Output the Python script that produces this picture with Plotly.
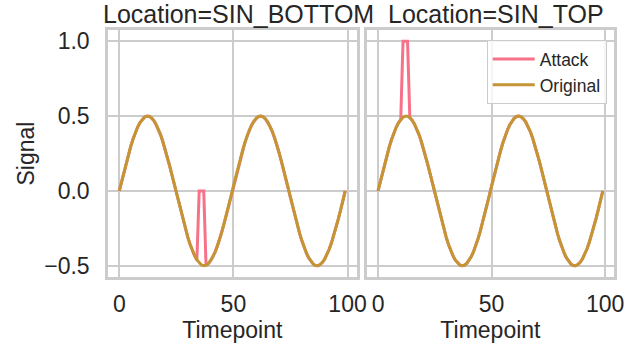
import plotly.graph_objects as go

timepoints = list(range(100))

original = [
    0.0, 0.0633, 0.1256, 0.1858, 0.2431, 0.2965, 0.3450, 0.3881, 0.4249, 0.4548,
    0.4775, 0.4924, 0.4994, 0.4984, 0.4894, 0.4725, 0.4480, 0.4163, 0.3779, 0.3334,
    0.2835, 0.2291, 0.1710, 0.1102, 0.0475, -0.0159, -0.0790, -0.1409, -0.2005, -0.2568,
    -0.3091, -0.3563, -0.3979, -0.4330, -0.4612, -0.4819, -0.4949, -0.4999, -0.4969, -0.4859,
    -0.4671, -0.4407, -0.4073, -0.3673, -0.3214, -0.2703, -0.2149, -0.1560, -0.0946, -0.0317,
    0.0317, 0.0946, 0.1560, 0.2149, 0.2703, 0.3214, 0.3673, 0.4073, 0.4407, 0.4671,
    0.4859, 0.4969, 0.4999, 0.4949, 0.4819, 0.4612, 0.4330, 0.3979, 0.3563, 0.3091,
    0.2568, 0.2005, 0.1409, 0.0790, 0.0159, -0.0475, -0.1102, -0.1710, -0.2291, -0.2835,
    -0.3334, -0.3779, -0.4163, -0.4480, -0.4725, -0.4894, -0.4984, -0.4994, -0.4924, -0.4775,
    -0.4548, -0.4249, -0.3881, -0.3450, -0.2965, -0.2431, -0.1858, -0.1256, -0.0633, 0.0,
]

attack_bottom = [
    0.0, 0.0633, 0.1256, 0.1858, 0.2431, 0.2965, 0.3450, 0.3881, 0.4249, 0.4548,
    0.4775, 0.4924, 0.4994, 0.4984, 0.4894, 0.4725, 0.4480, 0.4163, 0.3779, 0.3334,
    0.2835, 0.2291, 0.1710, 0.1102, 0.0475, -0.0159, -0.0790, -0.1409, -0.2005, -0.2568,
    -0.3091, -0.3563, -0.3979, -0.4330, -0.4612, 0.0, 0.0, 0.0, -0.4969, -0.4859,
    -0.4671, -0.4407, -0.4073, -0.3673, -0.3214, -0.2703, -0.2149, -0.1560, -0.0946, -0.0317,
    0.0317, 0.0946, 0.1560, 0.2149, 0.2703, 0.3214, 0.3673, 0.4073, 0.4407, 0.4671,
    0.4859, 0.4969, 0.4999, 0.4949, 0.4819, 0.4612, 0.4330, 0.3979, 0.3563, 0.3091,
    0.2568, 0.2005, 0.1409, 0.0790, 0.0159, -0.0475, -0.1102, -0.1710, -0.2291, -0.2835,
    -0.3334, -0.3779, -0.4163, -0.4480, -0.4725, -0.4894, -0.4984, -0.4994, -0.4924, -0.4775,
    -0.4548, -0.4249, -0.3881, -0.3450, -0.2965, -0.2431, -0.1858, -0.1256, -0.0633, 0.0,
]

attack_top = [
    0.0, 0.0633, 0.1256, 0.1858, 0.2431, 0.2965, 0.3450, 0.3881, 0.4249, 0.4548,
    0.4775, 1.0, 1.0, 1.0, 0.4894, 0.4725, 0.4480, 0.4163, 0.3779, 0.3334,
    0.2835, 0.2291, 0.1710, 0.1102, 0.0475, -0.0159, -0.0790, -0.1409, -0.2005, -0.2568,
    -0.3091, -0.3563, -0.3979, -0.4330, -0.4612, -0.4819, -0.4949, -0.4999, -0.4969, -0.4859,
    -0.4671, -0.4407, -0.4073, -0.3673, -0.3214, -0.2703, -0.2149, -0.1560, -0.0946, -0.0317,
    0.0317, 0.0946, 0.1560, 0.2149, 0.2703, 0.3214, 0.3673, 0.4073, 0.4407, 0.4671,
    0.4859, 0.4969, 0.4999, 0.4949, 0.4819, 0.4612, 0.4330, 0.3979, 0.3563, 0.3091,
    0.2568, 0.2005, 0.1409, 0.0790, 0.0159, -0.0475, -0.1102, -0.1710, -0.2291, -0.2835,
    -0.3334, -0.3779, -0.4163, -0.4480, -0.4725, -0.4894, -0.4984, -0.4994, -0.4924, -0.4775,
    -0.4548, -0.4249, -0.3881, -0.3450, -0.2965, -0.2431, -0.1858, -0.1256, -0.0633, 0.0,
]

panel_titles = ["Location=SIN_BOTTOM", "Location=SIN_TOP"]
x_ticks = [0, 50, 100]
y_ticks = [-0.5, 0.0, 0.5, 1.0]

ATTACK_COLOR = "#f77189"
ORIG_COLOR = "#c39535"
FONT = "Liberation Sans, Arial, sans-serif"
TEXT = "#262626"
GRID = "#cccccc"

fig = go.Figure()

panels = [("x", "y", attack_bottom, True), ("x2", "y2", attack_top, False)]
for xa, ya, atk, first in panels:
    fig.add_trace(go.Scatter(x=timepoints, y=atk, mode="lines", name="Attack",
                             line=dict(color=ATTACK_COLOR, width=3),
                             xaxis=xa, yaxis=ya, showlegend=not first))
    fig.add_trace(go.Scatter(x=timepoints, y=original, mode="lines", name="Original",
                             line=dict(color=ORIG_COLOR, width=3),
                             xaxis=xa, yaxis=ya, showlegend=not first))

common_x = dict(range=[-4.95, 103.95], tickvals=x_ticks, showgrid=True, gridcolor=GRID,
                gridwidth=2, showline=True, linecolor=GRID, linewidth=2.5, mirror=True,
                zeroline=False, ticks="", ticklabelstandoff=5, automargin=False,
                tickfont=dict(family=FONT, size=23, color=TEXT),
                title=dict(text="Timepoint", font=dict(family=FONT, size=23, color=TEXT),
                           standoff=0))
common_y = dict(range=[-0.575, 1.075], tickvals=y_ticks, tickformat=".1f", showgrid=True,
                gridcolor=GRID, gridwidth=2, showline=True, linecolor=GRID, linewidth=2.5,
                mirror=True, zeroline=False, ticks="", domain=[0.2131, 0.9148],
                automargin=False, tickfont=dict(family=FONT, size=23, color=TEXT))

fig.update_layout(
    width=639, height=352,
    margin=dict(l=0, r=0, t=0, b=0),
    paper_bgcolor="white", plot_bgcolor="white",
    xaxis=dict(domain=[0.169, 0.558], **common_x),
    xaxis2=dict(domain=[0.574, 0.961], **common_x),
    yaxis=dict(anchor="x", ticklabelstandoff=11,
               title=dict(text="Signal", font=dict(family=FONT, size=23, color=TEXT),
                          standoff=4),
               **common_y),
    yaxis2=dict(anchor="x2", matches="y", showticklabels=False, **common_y),
    legend=dict(x=0.9495, y=0.886, xanchor="right", yanchor="top",
                bgcolor="rgba(255,255,255,0.8)", bordercolor=GRID, borderwidth=1,
                font=dict(family=FONT, size=17.5, color=TEXT), tracegroupgap=0,
                itemwidth=42),
    showlegend=True,
)

for title, xa in zip(panel_titles, ["x", "x2"]):
    fig.add_annotation(text=title, xref=f"{xa} domain", yref="paper", x=0.5, y=1 - 23 / 352,
                       xanchor="center", yanchor="bottom", yshift=-7, xshift=6,
                       showarrow=False, font=dict(family=FONT, size=25, color=TEXT))

fig.write_html("out.html",
               config={"displayModeBar": False},
               post_script="document.body.style.margin='0';document.body.style.padding='0';")
